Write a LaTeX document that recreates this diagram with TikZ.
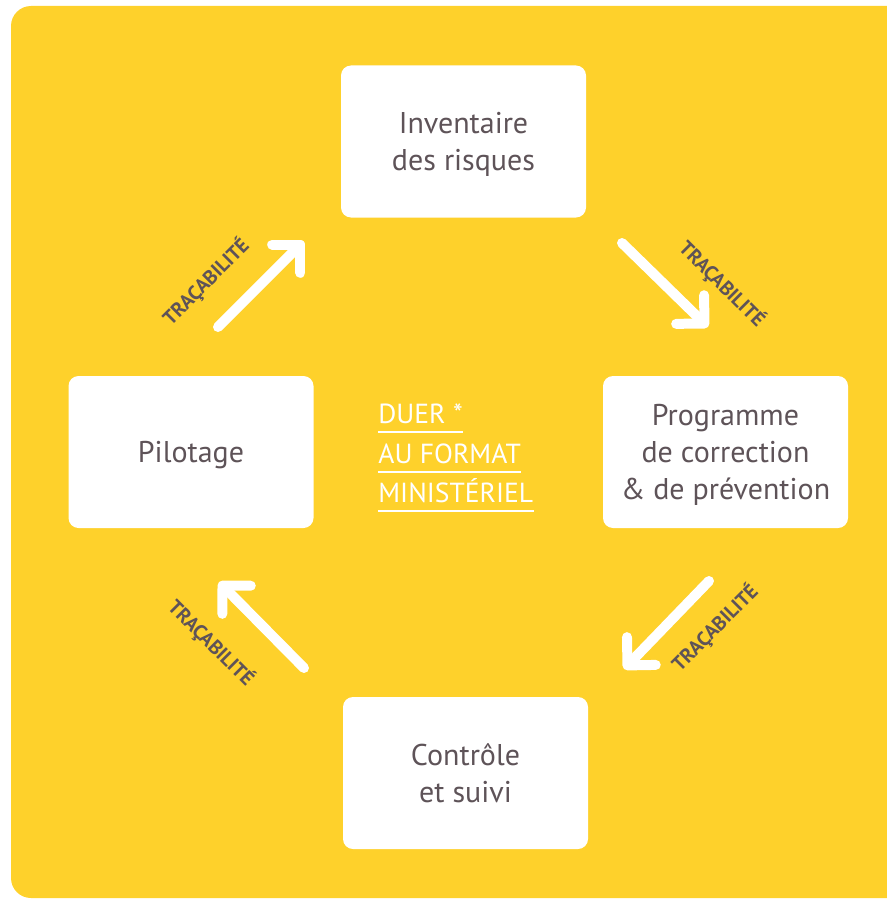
\documentclass[tikz,border=0pt]{standalone}
\usepackage{fontspec}
\setmainfont{PT Sans}
\usetikzlibrary{arrows.meta}
\definecolor{fond}{HTML}{FED12B}
\definecolor{txt}{HTML}{5E5358}
\tikzset{dp/.style={
  x=0.5pt,
  y=-0.5pt
}}
\tikzset{etp/.style={
  fill=white,
  shape=rectangle,
  rounded corners=5pt,
  minimum width=122.5pt,
  minimum height=76pt,
  align=center,
  text depth=0pt,
  text=txt,
  font=\fontsize{15}{18.5}\selectfont,
}}
\tikzset{fl/.style={
  draw=white,
  line width=5pt,
  line cap=round,
  -{Straight Barb[length=10pt,width=20pt,round]}
}}
\tikzset{trc/.style={
  text=txt,
  inner sep=0pt,
  font=\bfseries\fontsize{10}{12}\selectfont,
}}
\tikzset{sln/.style={
  text=white,
  anchor=base west,
  inner sep=0pt,
  font=\fontsize{13.8}{16}\selectfont,
}}

\begin{document}
\begin{tikzpicture}[dp]

    \useasboundingbox (0,0) rectangle (887,899);

    %% Background
    \fill[fond,rounded corners=10pt] (11,6) rectangle (920,898);

    %% Steps
    \node[etp] (inv) at (463.5,141.5) {Inventaire\\des risques};
    \node[etp] (prog) at (725.5,452) {Programme\\de correction\\\& de prévention};
    \node[etp] (ctrl) at (465.5,773) {Contrôle\\et suivi};
    \node[etp] (pilo) at (191,452) {Pilotage};

    %% Arrows
    \coordinate (pi1) at (218,327);
    \coordinate (in1) at (304,241);
    \coordinate (in2) at (622,243);
    \coordinate (pr1) at (708,327);
    \coordinate (pr2) at (709,581);
    \coordinate (ct1) at (624,669);
    \coordinate (ct2) at (304,668);
    \coordinate (pi2) at (219,582);
    \draw[fl] (pi1) -- (in1);
    \draw[fl] (in2) -- (pr1);
    \draw[fl] (pr2) -- (ct1);
    \draw[fl] (ct2) -- (pi2);

    % Labels
    \node[trc,rotate=45] (tr1) at (206,282) {TRAÇABILITÉ};
    \node[trc,rotate=-45] (tr2) at (722,284) {TRAÇABILITÉ};
    \node[trc,rotate=45] (tr3) at (715,628) {TRAÇABILITÉ};
    \node[trc,rotate=-45] (tr4) at (211,643) {TRAÇABILITÉ};

    %% Centre
    \node[sln] (du1) at (378,423) {DUER *};
    \node[sln] (du2) at (378,463) {AU FORMAT};
    \node[sln] (du3) at (378,502) {MINISTÉRIEL};
    \foreach \n in {du1,du2,du3}
      \draw[white,line width=1pt]
        ([yshift=-4.5pt]\n.base west) -- ([yshift=-4.5pt]\n.base east);

  \end{tikzpicture}
\end{document}
